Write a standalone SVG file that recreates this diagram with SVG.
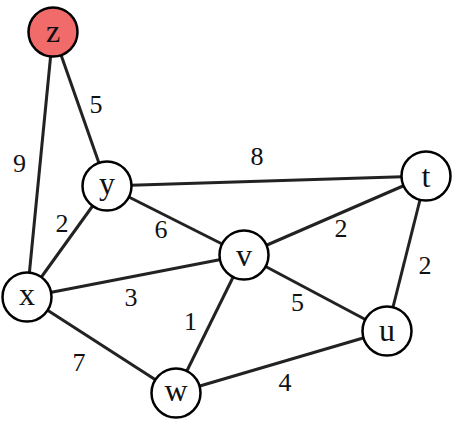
<svg xmlns="http://www.w3.org/2000/svg" width="458" height="421" viewBox="0 0 458 421">
<style>
.e{stroke:#222;stroke-width:3;fill:none}
.n{fill:#fff;stroke:#000;stroke-width:2.5}
.nl{font-family:"Liberation Serif",serif;font-size:32px;text-anchor:middle;fill:#111}
.el{font-family:"Liberation Serif",serif;font-size:26px;text-anchor:middle;fill:#111}
</style>
<rect width="458" height="421" fill="#fff"/>
<g id="edges">
<line class="e" x1="53" y1="32" x2="27" y2="297"/>
<line class="e" x1="53" y1="32" x2="107" y2="186"/>
<line class="e" x1="107" y1="186" x2="426" y2="176"/>
<line class="e" x1="107" y1="186" x2="244" y2="255"/>
<line class="e" x1="107" y1="186" x2="27" y2="297"/>
<line class="e" x1="27" y1="297" x2="244" y2="255"/>
<line class="e" x1="27" y1="297" x2="176" y2="393"/>
<line class="e" x1="244" y1="255" x2="426" y2="176"/>
<line class="e" x1="244" y1="255" x2="387" y2="331"/>
<line class="e" x1="244" y1="255" x2="176" y2="393"/>
<line class="e" x1="426" y1="176" x2="387" y2="331"/>
<line class="e" x1="176" y1="393" x2="387" y2="331"/>
</g>
<g id="edge-labels">
<text class="el" x="96" y="113">5</text>
<text class="el" x="19.5" y="172">9</text>
<text class="el" x="257" y="165">8</text>
<text class="el" x="62" y="232">2</text>
<text class="el" x="161" y="238">6</text>
<text class="el" x="341" y="237">2</text>
<text class="el" x="425" y="274">2</text>
<text class="el" x="131" y="306">3</text>
<text class="el" x="297.5" y="311">5</text>
<text class="el" x="190.5" y="330">1</text>
<text class="el" x="79" y="371">7</text>
<text class="el" x="285" y="391">4</text>
</g>
<g id="z"><circle class="n" cx="53" cy="32" r="24.5" style="fill:#f26b6b"/><text class="nl" x="53" y="42">z</text></g>
<g id="y"><circle class="n" cx="107" cy="186" r="24.5"/><text class="nl" x="107" y="194">y</text></g>
<g id="t"><circle class="n" cx="426" cy="176" r="24.5"/><text class="nl" x="426" y="187">t</text></g>
<g id="x"><circle class="n" cx="27" cy="297" r="24.5"/><text class="nl" x="27" y="305">x</text></g>
<g id="v"><circle class="n" cx="244" cy="255" r="24.5"/><text class="nl" x="244" y="266">v</text></g>
<g id="u"><circle class="n" cx="387" cy="331" r="24.5"/><text class="nl" x="387" y="341">u</text></g>
<g id="w"><circle class="n" cx="176" cy="393" r="24.5"/><text class="nl" x="176" y="401">w</text></g>
</svg>
